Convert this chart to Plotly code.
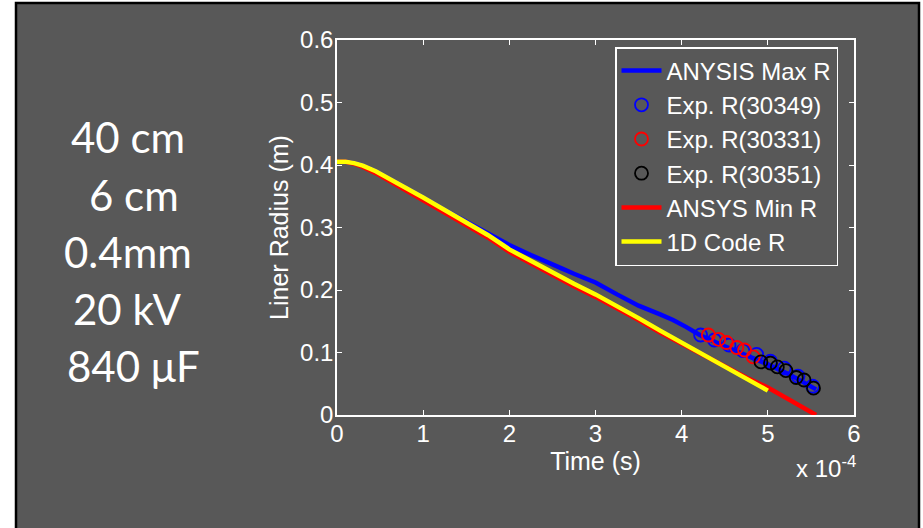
import plotly.graph_objects as go

# ---------------- data (time in units of 1e-4 s, radius in m) ----------------
t_1d = [0, 0.1, 0.2, 0.3, 0.45, 0.6, 0.8, 1.0, 1.25, 1.5, 1.75, 2.0, 2.25, 2.5,
        2.75, 3.0, 3.25, 3.5, 3.75, 4.0, 4.25, 4.5, 4.75, 5.0]
r_1d = [0.405, 0.405, 0.403, 0.399, 0.390, 0.379, 0.364, 0.348, 0.328, 0.309,
        0.288, 0.265, 0.246, 0.228, 0.210, 0.193, 0.175, 0.155, 0.135, 0.116,
        0.096, 0.077, 0.058, 0.039]

t_min = [0, 0.1, 0.2, 0.3, 0.45, 0.6, 0.8, 1.0, 1.25, 1.5, 1.75, 2.0, 2.25, 2.5,
         2.75, 3.0, 3.25, 3.5, 3.75, 4.0, 4.25, 4.5, 4.75, 5.0, 5.25, 5.56]
r_min = [0.405, 0.405, 0.402, 0.397, 0.387, 0.375, 0.360, 0.344, 0.324, 0.305,
         0.284, 0.261, 0.242, 0.224, 0.206, 0.189, 0.171, 0.152, 0.132, 0.114,
         0.095, 0.077, 0.060, 0.044, 0.025, 0.0]

t_max = [0, 0.1, 0.2, 0.3, 0.45, 0.6, 0.8, 1.0, 1.25, 1.5, 1.75, 2.0, 2.25, 2.5,
         2.6, 2.75, 3.0, 3.25, 3.5, 3.75, 3.9, 4.05, 4.21, 4.5, 4.75, 5.0, 5.25, 5.56]
r_max = [0.405, 0.405, 0.403, 0.399, 0.390, 0.379, 0.364, 0.348, 0.328, 0.309,
         0.289, 0.272, 0.256, 0.242, 0.235, 0.226, 0.212, 0.193, 0.175, 0.161,
         0.152, 0.141, 0.128, 0.110, 0.096, 0.081, 0.065, 0.041]

t_exp_30349 = [4.22, 4.38, 4.55, 4.71, 4.87, 5.03, 5.19, 5.35, 5.52]
r_exp_30349 = [0.128, 0.120, 0.112, 0.103, 0.097, 0.086, 0.075, 0.062, 0.046]

t_exp_30331 = [4.31, 4.43, 4.52, 4.64, 4.73, 4.83]
r_exp_30331 = [0.128, 0.121, 0.116, 0.108, 0.104, 0.093]

t_exp_30351 = [4.92, 5.03, 5.11, 5.21, 5.33, 5.42, 5.53]
r_exp_30351 = [0.085, 0.083, 0.077, 0.071, 0.060, 0.056, 0.043]

side_text = ["40 cm", "6 cm", "0.4mm", "20 kV", "840 μF"]

x_ticks = [0, 1, 2, 3, 4, 5, 6]
y_ticks = [0, 0.1, 0.2, 0.3, 0.4, 0.5, 0.6]
y_tick_text = ["0", "0.1", "0.2", "0.3", "0.4", "0.5", "0.6"]

# ---------------- layout geometry (pixels) ----------------
W, H = 923, 528
L, R, T, B = 337, 854, 40, 415
BG = "#585858"
FONT = "Liberation Sans, Arial, Helvetica, sans-serif"


def px(xp):
    return (xp - L) / (R - L)


def py(yp):
    return (B - yp) / (B - T)


fig = go.Figure()
fig.add_trace(go.Scatter(x=t_max, y=r_max, mode="lines", name="ANYSIS Max R",
                         line=dict(color="#0000ff", width=4.5)))
fig.add_trace(go.Scatter(x=t_exp_30349, y=r_exp_30349, mode="markers", name="Exp. R(30349)",
                         marker=dict(symbol="circle-open", size=13, color="#0000ff",
                                     line=dict(width=1.8, color="#0000ff"))))
fig.add_trace(go.Scatter(x=t_exp_30331, y=r_exp_30331, mode="markers", name="Exp. R(30331)",
                         marker=dict(symbol="circle-open", size=13, color="#ff0000",
                                     line=dict(width=1.8, color="#ff0000"))))
fig.add_trace(go.Scatter(x=t_exp_30351, y=r_exp_30351, mode="markers", name="Exp. R(30351)",
                         marker=dict(symbol="circle-open", size=13, color="#000000",
                                     line=dict(width=1.8, color="#000000"))))
fig.add_trace(go.Scatter(x=t_min, y=r_min, mode="lines", name="ANSYS Min R",
                         line=dict(color="#ff0000", width=4.5)))
fig.add_trace(go.Scatter(x=t_1d, y=r_1d, mode="lines", name="1D Code R",
                         line=dict(color="#ffff00", width=4.5)))

axis_common = dict(showgrid=False, zeroline=False, showline=True, linecolor="white",
                   linewidth=1.5, mirror="ticks", ticks="inside", ticklen=5,
                   tickcolor="white", tickwidth=1,
                   tickfont=dict(family=FONT, size=24, color="white"))

fig.update_layout(
    width=W, height=H,
    margin=dict(l=L, r=W - R, t=T, b=H - B, autoexpand=False),
    paper_bgcolor="white",
    plot_bgcolor="rgba(0,0,0,0)",
    font=dict(family=FONT, color="white"),
    xaxis=dict(range=[0, 6], tickvals=x_ticks, ticktext=[str(v) for v in x_ticks],
               ticklabelstandoff=-4,
               title=dict(text="Time (s)", font=dict(family=FONT, size=25, color="white"),
                          standoff=0),
               **axis_common),
    yaxis=dict(range=[0, 0.6], tickvals=y_ticks, ticktext=y_tick_text,
               ticklabelstandoff=-3,
               title=dict(text="Liner Radius (m)", font=dict(family=FONT, size=25, color="white"),
                          standoff=4),
               **axis_common),
    legend=dict(x=px(615), y=py(47), xanchor="left", yanchor="top",
                bgcolor=BG, bordercolor="white", borderwidth=1.5,
                font=dict(family=FONT, size=24, color="white"),
                tracegroupgap=0, itemwidth=40),
    showlegend=True,
)

# slide background with black frame
fig.add_shape(type="rect", xref="paper", yref="paper",
              x0=px(16), x1=px(919), y0=py(545), y1=py(3),
              fillcolor=BG, line=dict(color="black", width=2.5), layer="below")

# side text
side_x = [128, 133.5, 128.3, 126.7, 133.5]
side_y = [137, 195, 252, 309, 366]
for txt, xc, yc in zip(side_text, side_x, side_y):
    fig.add_annotation(text=txt, xref="paper", yref="paper", x=px(xc), y=py(yc),
                       xanchor="center", yanchor="middle", showarrow=False,
                       font=dict(family="Lato, Carlito, Calibri, sans-serif", size=42, color="white"))

# exponent label
fig.add_annotation(text="x 10<sup>-4</sup>", xref="paper", yref="paper",
                   x=px(858), y=py(484), xanchor="right", yanchor="bottom",
                   showarrow=False, font=dict(family=FONT, size=24, color="white"))

fig.write_html("out.html")
